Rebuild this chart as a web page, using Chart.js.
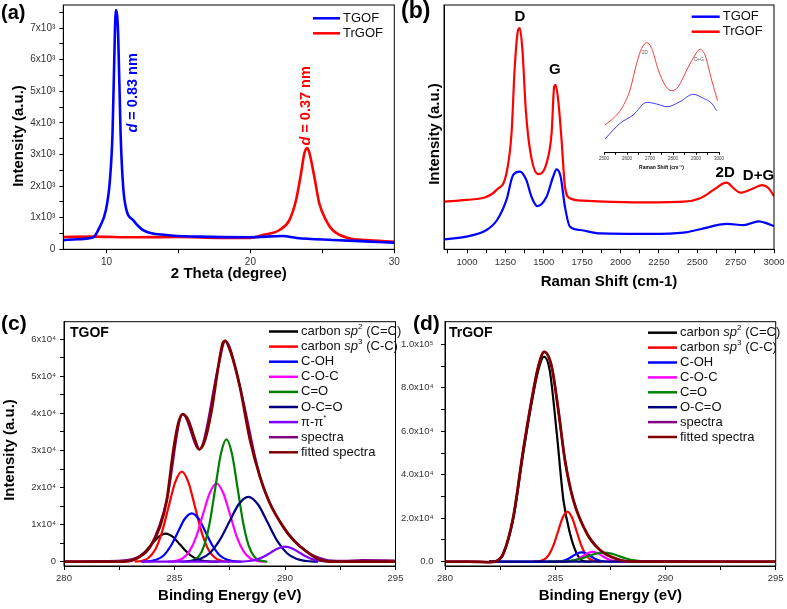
<!DOCTYPE html>
<html>
<head>
<meta charset="utf-8">
<script src="https://cdn.jsdelivr.net/npm/chart.js@4.4.1/dist/chart.umd.min.js"></script>
<style>
  body { margin: 0; background: #fff; width: 787px; height: 609px; position: relative; overflow: hidden; }
  canvas { position: absolute; }
</style>
</head>
<body>
<canvas id="xrd" style="left:0;top:0" width="400" height="300"></canvas>
<canvas id="raman" style="left:400px;top:0" width="387" height="300"></canvas>
<canvas id="inset" style="left:590px;top:30px" width="140" height="145"></canvas>
<canvas id="xpsTGOF" style="left:0;top:300px" width="410" height="309"></canvas>
<canvas id="xpsTrGOF" style="left:400px;top:300px" width="387" height="309"></canvas>
<script>
"use strict"
// ---------- (a) XRD ----------
const xrdThetaTGOF = [7, 8, 9.08, 9.54, 9.96, 10.24, 10.42, 10.53, 10.65, 10.81, 10.98, 11.16, 11.39, 11.85, 12.54, 14.17, 16.47, 19.94, 22.25, 23.2, 25.71, 28, 30];
const xrdTGOF      = [290, 320, 380, 715, 1240, 2190, 3670, 5780, 7570, 6830, 3670, 1980, 1240, 925, 610, 450, 400, 380, 420, 360, 295, 250, 210];
const xrdThetaTrGOF = [7, 9, 12, 15, 18, 20, 20.86, 22.02, 22.71, 23.17, 23.52, 23.75, 23.95, 24.1, 24.44, 24.79, 25.25, 25.71, 26.87, 28.03, 30];
const xrdTrGOF      = [390, 400, 380, 390, 360, 360, 450, 610, 925, 1550, 2400, 3040, 3200, 3050, 2300, 1450, 925, 610, 350, 295, 240];
const xrdXMajor = [10, 20, 30];
const xrdXMinor = [15, 25];
const xrdYMajor = [0, 1000, 2000, 3000, 4000, 5000, 6000, 7000];
const xrdYMinor = [500, 1500, 2500, 3500, 4500, 5500, 6500, 7500];
const xrdYLabels = ['0', '1x10³', '2x10³', '3x10³', '4x10³', '5x10³', '6x10³', '7x10³'];
// d-spacing notes: [2theta, intensity] of text centre
const xrdNoteTGOF = [11.84, 4950];
const xrdNoteTrGOF = [23.87, 4540];

// ---------- (b) Raman ----------
const ramanShiftTrGOF = [850, 996, 1127, 1192, 1257, 1290, 1311, 1333, 1344, 1361, 1383, 1414, 1463, 1518, 1551, 1568, 1577, 1594, 1616, 1638, 1670, 1757, 2084, 2410, 2519, 2606, 2671, 2693, 2736, 2780, 2867, 2922, 2965, 3000];
const ramanTrGOF      = [19.5, 20.2, 21.5, 24.3, 31.1, 47.5, 74.7, 89.8, 90.5, 81.6, 57, 39.3, 30.8, 35.2, 47.5, 66.6, 67.3, 61.1, 44.7, 25.6, 20.9, 19.9, 19.2, 19.5, 20.9, 24.3, 27, 27.3, 25, 23.2, 25, 26.3, 25, 21.8];
const ramanShiftTGOF = [850, 996, 1127, 1196, 1257, 1300, 1345, 1386, 1420, 1457, 1518, 1561, 1583, 1610, 1638, 1670, 1736, 1867, 2193, 2410, 2519, 2693, 2802, 2900, 2954, 3000];
const ramanTGOF      = [4.1, 5.2, 7.9, 12, 20.2, 30.4, 31.8, 28.4, 21.5, 17.7, 21.5, 29.7, 32.7, 29.7, 17.4, 9.3, 7.9, 6.5, 6.3, 6.8, 8.2, 10.4, 9.9, 11.4, 10.6, 9.5];
const ramanXMajor = [1000, 1250, 1500, 1750, 2000, 2250, 2500, 2750, 3000];
const ramanXMinor = [875, 1125, 1375, 1625, 1875, 2125, 2375, 2625, 2875];
const ramanPeakNames = ['D', 'G', '2D', 'D+G'];
const ramanPeakShift = [1344, 1572, 2682, 2899];
const ramanPeakLabelY = [95, 73.4, 31.2, 30];
// inset (2D / D+G region)
const insetShiftTrGOF = [2504, 2540, 2577, 2613, 2642, 2664, 2686, 2707, 2736, 2765, 2794, 2823, 2860, 2896, 2917, 2939, 2968, 2994];
const insetTrGOF      = [35, 41.7, 51.7, 70, 96.7, 111.7, 117.3, 111.7, 90, 75, 69.3, 73.3, 90, 105, 110.7, 105, 80, 59.3];
const insetShiftTGOF = [2504, 2570, 2627, 2686, 2729, 2775, 2830, 2888, 2932, 2968, 2990];
const insetTGOF      = [21, 36.7, 45, 57.7, 56, 53.3, 58.3, 65.7, 61.7, 56.7, 49.3];
const insetXMajor = [2500, 2600, 2700, 2800, 2900, 3000];
const insetXMinor = [2550, 2650, 2750, 2850, 2950];
const insetPeakNames = ['2D', 'D+G'];
const insetPeakShift = [2678, 2913];
const insetPeakY = [107.7, 100];

// ---------- (c) XPS C1s TGOF ----------
const tgFitE = [280, 281, 282, 282.84, 283.44, 283.9, 284.34, 284.65, 284.95, 285.17, 285.37, 285.62, 285.93, 286.12, 286.38, 286.68, 286.98, 287.18, 287.3, 287.51, 287.74, 287.96, 288.42, 288.87, 289.32, 289.92, 290.38, 290.98, 291.58, 292.2, 293, 295];
const tgFit  = [0, 0, 0, 100, 1350, 4050, 9400, 16600, 30100, 37300, 39800, 38200, 32800, 30300, 32800, 40900, 52600, 58900, 59600, 57100, 52600, 47200, 32800, 22900, 15700, 9400, 5850, 2700, 460, 0, 0, 0];
const tgSpecE = [280, 281.5, 282.6, 283.2, 283.9, 284.65, 285.37, 286.12, 286.98, 287.3, 287.96, 288.87, 289.92, 290.98, 291.8, 292.6, 293.5, 295];
const tgSpec  = [0, 150, 300, 900, 4050, 16600, 39800, 30300, 52600, 59600, 47200, 22900, 9400, 2700, 600, 200, 400, 300];
const tgSp2E = [282.3, 282.65, 282.98, 283.3, 283.63, 283.95, 284.28, 284.6, 284.93, 285.25, 285.58, 285.9, 286.23, 286.55, 287];
const tgSp2  = [0, 80, 330, 1030, 2470, 4610, 6700, 7600, 6700, 4610, 2470, 1030, 330, 80, 0];
const tgSp3E = [283.2, 283.53, 283.83, 284.13, 284.43, 284.73, 285.03, 285.33, 285.63, 285.93, 286.23, 286.53, 286.83, 287.13, 287.5];
const tgSp3  = [0, 270, 1070, 3280, 7900, 14750, 21430, 24300, 21430, 14750, 7900, 3280, 1070, 270, 0];
const tgCOHE = [283.5, 283.89, 284.2, 284.52, 284.83, 285.15, 285.46, 285.78, 286.1, 286.41, 286.73, 287.04, 287.36, 287.67, 288];
const tgCOH  = [0, 145, 575, 1760, 4240, 7930, 11520, 13060, 11520, 7930, 4240, 1760, 575, 145, 0];
const tgCOCE = [284.7, 285.07, 285.38, 285.68, 285.99, 286.29, 286.6, 286.9, 287.2, 287.51, 287.81, 288.12, 288.42, 288.73, 289.1];
const tgCOC  = [0, 230, 930, 2850, 6860, 12810, 18610, 21100, 18610, 12810, 6860, 2850, 930, 230, 0];
const tgCOE = [285.5, 285.85, 286.1, 286.35, 286.6, 286.85, 287.1, 287.35, 287.6, 287.85, 288.1, 288.35, 288.6, 288.85, 289.2];
const tgCO  = [0, 360, 1450, 4460, 10730, 20030, 29110, 33000, 29110, 20030, 10730, 4460, 1450, 360, 0];
const tgOCOE = [285.3, 285.73, 286.17, 286.6, 287.03, 287.47, 287.9, 288.34, 288.78, 289.21, 289.64, 290.08, 290.51, 290.95, 291.5];
const tgOCO  = [0, 190, 770, 2360, 5690, 10620, 15440, 17500, 15440, 10620, 5690, 2360, 770, 190, 0];
const tgPiE = [283.5, 287.7, 288.05, 288.38, 288.7, 289.03, 289.35, 289.68, 290, 290.33, 290.65, 290.98, 291.3, 291.63, 291.95, 292.3];
const tgPi  = [0, 0, 45, 180, 550, 1320, 2460, 3570, 4050, 3570, 2460, 1320, 550, 180, 45, 0];

// ---------- (d) XPS C1s TrGOF ----------
const trFitE = [280, 281, 282, 282.34, 282.65, 283.1, 283.55, 283.93, 284.23, 284.5, 284.84, 285.14, 285.44, 285.82, 286.43, 287.03, 287.94, 288.5, 290, 295];
const trFit  = [0, 0, -200, 300, 3900, 20700, 51400, 74400, 89700, 96500, 89700, 69800, 46800, 28400, 13100, 5400, 780, 0, 0, 0];
const trSpecE = [280, 281.5, 282, 282.34, 282.65, 283.1, 283.55, 283.93, 284.23, 284.5, 284.84, 285.14, 285.44, 285.82, 286.43, 287.03, 287.94, 288.8, 291, 295];
const trSpec  = [0, 100, -300, 300, 3900, 20700, 51400, 74400, 89700, 96500, 89700, 69800, 46800, 28400, 13100, 5400, 780, 100, 200, 0];
const trSp2E = [282, 282.4, 282.65, 283.1, 283.55, 283.93, 284.23, 284.49, 284.75, 285.07, 285.37, 285.67, 285.97, 286.27, 286.6];
const trSp2  = [0, 600, 3500, 19800, 50000, 73000, 88000, 94300, 88000, 59000, 28400, 13000, 3900, 300, 0];
const trSp3E = [284, 284.29, 284.5, 284.71, 284.92, 285.13, 285.34, 285.55, 285.76, 285.97, 286.18, 286.39, 286.6, 286.81, 287.1];
const trSp3  = [0, 250, 1000, 3100, 7500, 14000, 20300, 23000, 20300, 14000, 7500, 3100, 1000, 250, 0];
const trCOHE = [282, 284.6, 285, 285.2, 285.4, 285.6, 285.8, 286, 286.2, 286.4, 286.6, 286.8, 287, 287.2, 287.4, 287.8, 289];
const trCOH  = [0, 0, 50, 190, 580, 1400, 2610, 3790, 4300, 3790, 2610, 1400, 580, 190, 50, 0, 0];
const trCOCE = [285, 285.44, 285.65, 285.86, 286.07, 286.28, 286.49, 286.7, 286.91, 287.12, 287.33, 287.54, 287.75, 287.96, 288.3];
const trCOC  = [0, 50, 200, 610, 1460, 2730, 3970, 4500, 3970, 2730, 1460, 610, 200, 50, 0];
const trCOE = [284.7, 285.1, 285.45, 285.8, 286.15, 286.5, 286.85, 287.2, 287.55, 287.9, 288.25, 288.6, 288.95, 289.3, 289.7];
const trCO  = [0, 45, 185, 570, 1370, 2550, 3700, 4200, 3700, 2550, 1370, 570, 185, 45, 0];
const trOCOE = [282, 286, 287.5, 288.5, 289.5, 291];
const trOCO  = [0, 0, 100, 150, 50, 0];

const xpsXMajor = [280, 285, 290, 295];
const xpsXMinor = [282.5, 287.5, 292.5];
const tgYMajor = [0, 10000, 20000, 30000, 40000, 50000, 60000];
const tgYMinor = [5000, 15000, 25000, 35000, 45000, 55000];
const tgYLabels = ['0', '1x10⁴', '2x10⁴', '3x10⁴', '4x10⁴', '5x10⁴', '6x10⁴'];
const trYMajor = [0, 20000, 40000, 60000, 80000, 100000];
const trYMinor = [10000, 30000, 50000, 70000, 90000];
const trYLabels = ['0.0', '2.0x10⁴', '4.0x10⁴', '6.0x10⁴', '8.0x10⁴', '1.0x10⁵'];

// ---------- helpers ----------
const FONT = '"Liberation Sans", Arial, Helvetica, sans-serif';
Chart.defaults.font.family = FONT;
Chart.defaults.animation = false;

const pts = (xs, ys) => xs.map((x, i) => ({ x: x, y: ys[i] }));

function series(label, xs, ys, color, width, rich) {
  return {
    label: label, rich: rich || [[label, '']], data: pts(xs, ys),
    borderColor: color, backgroundColor: color, borderWidth: width,
    pointRadius: 0, fill: false, cubicInterpolationMode: 'monotone'
  };
}

function xAxis(o) {
  return {
    type: 'linear', position: 'bottom', min: o.min, max: o.max,
    afterBuildTicks: s => { s.ticks = o.major.concat(o.minor).map(v => ({ value: v })); },
    afterFit: s => { s.height = o.height; s.paddingLeft = 0; s.paddingRight = 0; },
    ticks: {
      autoSkip: false, maxRotation: 0, padding: o.pad, color: '#333', font: { size: o.size },
      callback: v => { const i = o.major.indexOf(v); return i < 0 ? '' : (o.labels ? o.labels[i] : String(v)); }
    },
    grid: { drawOnChartArea: false, tickLength: o.tick || 4, tickColor: '#000' },
    border: { color: '#000' },
    title: { display: !!o.title, text: o.title, color: '#000', font: { size: o.titleSize || 15, weight: 'bold' }, padding: { top: 0, bottom: o.titlePad } }
  };
}

function yAxis(o) {
  return {
    type: 'linear', position: 'left', min: o.min, max: o.max, display: o.display !== false,
    afterBuildTicks: s => { s.ticks = (o.major || []).concat(o.minor || []).map(v => ({ value: v })); },
    afterFit: s => { s.width = o.width; s.paddingTop = 0; s.paddingBottom = 0; },
    ticks: {
      display: !!o.labels, autoSkip: false, padding: o.pad, color: '#333', font: { size: o.size },
      callback: v => { const i = (o.major || []).indexOf(v); return i < 0 || !o.labels ? '' : o.labels[i]; }
    },
    grid: { display: !!o.labels, drawOnChartArea: false, tickLength: 4, tickColor: '#000' },
    border: { display: true, color: '#000' },
    title: { display: false }
  };
}

function fontFor(style, size) {
  const it = style.includes('i') ? 'italic ' : '';
  const b = style.includes('b') ? 'bold ' : '';
  const sz = style.includes('u') ? size * 0.62 : size;
  return it + b + sz + 'px ' + FONT;
}
function richWidth(ctx, parts, size) {
  let w = 0;
  for (const [t, s] of parts) { ctx.font = fontFor(s, size); w += ctx.measureText(t).width; }
  return w;
}
function richText(ctx, x, y, parts, size) {
  ctx.textBaseline = 'middle';
  ctx.textAlign = 'left';
  let cx = x;
  for (const [t, s] of parts) {
    ctx.font = fontFor(s, size);
    ctx.fillText(t, cx, s.includes('u') ? y - size * 0.35 : y);
    cx += ctx.measureText(t).width;
  }
}
function vertText(ctx, cx, cy, parts, size, color) {
  ctx.save();
  ctx.translate(cx, cy);
  ctx.rotate(-Math.PI / 2);
  ctx.fillStyle = color;
  const w = richWidth(ctx, parts, size);
  richText(ctx, -w / 2, 0, parts, size);
  ctx.restore();
}
function drawLegend(ctx, sets, x0, y0, dy, len, size, lw) {
  sets.forEach((d, i) => {
    const y = y0 + i * dy;
    ctx.strokeStyle = d.borderColor;
    ctx.lineWidth = lw;
    ctx.beginPath(); ctx.moveTo(x0, y); ctx.lineTo(x0 + len, y); ctx.stroke();
    ctx.fillStyle = '#111';
    richText(ctx, x0 + len + 3, y, d.rich, size);
  });
}
function panelLabel(ctx, text, x, y, size) {
  ctx.fillStyle = '#000';
  richText(ctx, x, y, [[text, 'b']], size || 20);
}
const yTitle = [['Intensity (a.u.)', 'b']];

// box round the plot area
const frame = {
  id: 'frame',
  afterDraw(chart) {
    if (chart.options.noFrame) return;
    const { ctx, chartArea: a } = chart;
    ctx.save();
    ctx.strokeStyle = '#000';
    ctx.lineWidth = 1;
    ctx.strokeRect(a.left, a.top, a.right - a.left, a.bottom - a.top);
    ctx.restore();
  }
};
Chart.register(frame);

function baseOptions(pad) {
  return {
    responsive: false, devicePixelRatio: 1, animation: false,
    layout: { padding: pad },
    plugins: { legend: { display: false }, tooltip: { enabled: false } }
  };
}

// ---------- (a) ----------
new Chart(document.getElementById('xrd'), {
  type: 'line',
  data: { datasets: [
    series('TGOF', xrdThetaTGOF, xrdTGOF, '#0000ff', 2.6),
    series('TrGOF', xrdThetaTrGOF, xrdTrGOF, '#ff0000', 2.6)
  ] },
  options: Object.assign(baseOptions({ left: 0, top: 5, right: 5.7, bottom: 0 }), {
    scales: {
      x: xAxis({ min: 7, max: 30, major: xrdXMajor, minor: xrdXMinor, height: 50.7, pad: 3, size: 10, title: '2 Theta (degree)', titlePad: 17 }),
      y: yAxis({ min: 0, max: 7730, major: xrdYMajor, minor: xrdYMinor, labels: xrdYLabels, width: 63.3, pad: 4, size: 10 })
    }
  }),
  plugins: [{
    id: 'xrdNotes',
    afterDraw(chart) {
      const { ctx, scales: { x, y } } = chart;
      ctx.save();
      panelLabel(ctx, '(a)', 1, 13);
      vertText(ctx, 19, 136, yTitle, 15, '#000');
      drawLegend(ctx, chart.data.datasets, 313, 18.3, 15, 27, 13, 2.5);
      vertText(ctx, x.getPixelForValue(xrdNoteTGOF[0]), y.getPixelForValue(xrdNoteTGOF[1]), [['d', 'bi'], [' = 0.83 nm', 'b']], 14.5, '#0000ff');
      vertText(ctx, x.getPixelForValue(xrdNoteTrGOF[0]), y.getPixelForValue(xrdNoteTrGOF[1]), [['d', 'bi'], [' = 0.37 nm', 'b']], 14.5, '#ff0000');
      ctx.restore();
    }
  }]
});

// ---------- (b) ----------
new Chart(document.getElementById('raman'), {
  type: 'line',
  data: { datasets: [
    series('TGOF', ramanShiftTGOF, ramanTGOF, '#0000ff', 2.2),
    series('TrGOF', ramanShiftTrGOF, ramanTrGOF, '#ff0000', 2.2)
  ] },
  options: Object.assign(baseOptions({ left: 0, top: 5, right: 13, bottom: 0 }), {
    scales: {
      x: xAxis({ min: 850, max: 3000, major: ramanXMajor, minor: ramanXMinor, height: 50.7, pad: 3, size: 9.5, title: 'Raman Shift (cm-1)', titlePad: 9.3 }),
      y: yAxis({ min: 0, max: 100, width: 44 })
    }
  }),
  plugins: [{
    id: 'ramanNotes',
    afterDraw(chart) {
      const { ctx, scales: { x, y } } = chart;
      ctx.save();
      panelLabel(ctx, '(b)', 1, 12, 23);
      vertText(ctx, 34.5, 134, yTitle, 15, '#000');
      drawLegend(ctx, chart.data.datasets, 291.7, 16.7, 15, 28, 13, 2.5);
      ctx.fillStyle = '#000';
      ctx.font = 'bold 15px ' + FONT;
      ctx.textAlign = 'center';
      ctx.textBaseline = 'middle';
      ramanPeakNames.forEach((n, i) => ctx.fillText(n, x.getPixelForValue(ramanPeakShift[i]), y.getPixelForValue(ramanPeakLabelY[i])));
      ctx.restore();
    }
  }]
});

// inset
new Chart(document.getElementById('inset'), {
  type: 'line',
  data: { datasets: [
    series('TGOF', insetShiftTGOF, insetTGOF, '#3b3bff', 1),
    series('TrGOF', insetShiftTrGOF, insetTrGOF, '#ff3b3b', 1)
  ] },
  options: Object.assign(baseOptions({ left: 14, top: 5, right: 11, bottom: 0 }), {
    noFrame: true,
    scales: {
      x: xAxis({ min: 2500, max: 3000, major: insetXMajor, minor: insetXMinor, height: 22.7, pad: 1, size: 4.5, tick: 2.5, title: 'Raman Shift (cm⁻¹)', titleSize: 5, titlePad: 4 }),
      y: yAxis({ min: 7.7, max: 125, width: 0, display: false })
    }
  }),
  plugins: [{
    id: 'insetNotes',
    afterDraw(chart) {
      const { ctx, scales: { x, y } } = chart;
      ctx.save();
      ctx.fillStyle = '#555';
      ctx.font = '4.5px ' + FONT;
      ctx.textAlign = 'center';
      ctx.textBaseline = 'middle';
      insetPeakNames.forEach((n, i) => ctx.fillText(n, x.getPixelForValue(insetPeakShift[i]), y.getPixelForValue(insetPeakY[i])));
      ctx.restore();
    }
  }]
});

// ---------- (c) ----------
const sp2Rich = [['carbon ', ''], ['sp', 'i'], ['2', 'u'], [' (C=C)', '']];
const sp3Rich = [['carbon ', ''], ['sp', 'i'], ['3', 'u'], [' (C-C)', '']];
const piRich = [['π-π', ''], ['*', 'u']];

const tgSets = [
  series('fitted spectra', tgFitE, tgFit, '#800000', 2.8),
  series('spectra', tgSpecE, tgSpec, '#800080', 2.2),
  series('π-π*', tgPiE, tgPi, '#8000ff', 2.2, piRich),
  series('O-C=O', tgOCOE, tgOCO, '#000080', 2.2),
  series('C=O', tgCOE, tgCO, '#008000', 2.2),
  series('C-O-C', tgCOCE, tgCOC, '#ff00ff', 2.2),
  series('C-OH', tgCOHE, tgCOH, '#0000ff', 2.2),
  series('carbon sp3 (C-C)', tgSp3E, tgSp3, '#ff0000', 2.2, sp3Rich),
  series('carbon sp2 (C=C)', tgSp2E, tgSp2, '#000000', 2.2, sp2Rich)
];
new Chart(document.getElementById('xpsTGOF'), {
  type: 'line',
  data: { datasets: tgSets },
  options: Object.assign(baseOptions({ left: 0, top: 21.7, right: 14.5, bottom: 0 }), {
    scales: {
      x: xAxis({ min: 280, max: 295, major: xpsXMajor, minor: xpsXMinor, height: 43, pad: 3, size: 9.5, title: 'Binding Energy (eV)', titlePad: 4 }),
      y: yAxis({ min: -1160, max: 64750, major: tgYMajor, minor: tgYMinor, labels: tgYLabels, width: 64, pad: 4, size: 9.5 })
    }
  }),
  plugins: [{
    id: 'tgNotes',
    afterDraw(chart) {
      const { ctx } = chart;
      ctx.save();
      panelLabel(ctx, '(c)', 1, 24, 21);
      vertText(ctx, 9.5, 150, yTitle, 15, '#000');
      ctx.fillStyle = '#000';
      richText(ctx, 70, 33, [['TGOF', 'b']], 14);
      drawLegend(ctx, chart.data.datasets.slice().reverse(), 269, 31.5, 15.1, 29, 13, 2.5);
      ctx.restore();
    }
  }]
});

// ---------- (d) ----------
const trSets = [
  series('fitted spectra', trFitE, trFit, '#800000', 2.8),
  series('spectra', trSpecE, trSpec, '#800080', 2.2),
  series('O-C=O', trOCOE, trOCO, '#000080', 2.2),
  series('C=O', trCOE, trCO, '#008000', 2.2),
  series('C-O-C', trCOCE, trCOC, '#ff00ff', 2.2),
  series('C-OH', trCOHE, trCOH, '#0000ff', 2.2),
  series('carbon sp3 (C-C)', trSp3E, trSp3, '#ff0000', 2.2, sp3Rich),
  series('carbon sp2 (C=C)', trSp2E, trSp2, '#000000', 2.2, sp2Rich)
];
new Chart(document.getElementById('xpsTrGOF'), {
  type: 'line',
  data: { datasets: trSets },
  options: Object.assign(baseOptions({ left: 0, top: 21.7, right: 11.3, bottom: 0 }), {
    scales: {
      x: xAxis({ min: 280, max: 295, major: xpsXMajor, minor: xpsXMinor, height: 43, pad: 3, size: 9.5, title: 'Binding Energy (eV)', titlePad: 4 }),
      y: yAxis({ min: -1980, max: 110400, major: trYMajor, minor: trYMinor, labels: trYLabels, width: 45, pad: 7.5, size: 9.5 })
    }
  }),
  plugins: [{
    id: 'trNotes',
    afterDraw(chart) {
      const { ctx } = chart;
      ctx.save();
      panelLabel(ctx, '(d)', 13, 24, 21);
      ctx.fillStyle = '#000';
      richText(ctx, 49, 33, [['TrGOF', 'b']], 14);
      drawLegend(ctx, chart.data.datasets.slice().reverse(), 248, 32.7, 14.9, 29, 13, 2.5);
      ctx.restore();
    }
  }]
});
</script>
</body>
</html>
